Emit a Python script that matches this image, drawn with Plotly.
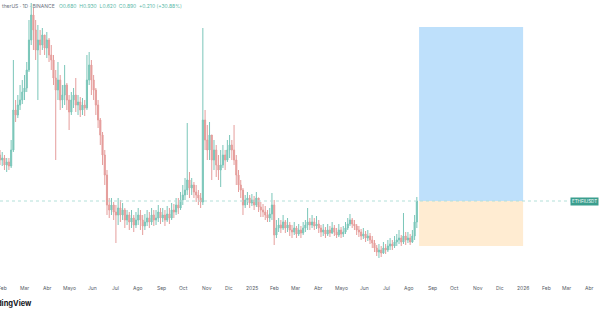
import plotly.graph_objects as go
import pandas as pd

# ---- data (3-day candles) ----
start_date = "2024-01-28"
step_days = 3
first_open = 1.35

closes = [1.30,1.32,1.25,1.28,1.24,1.40,1.80,1.75,1.85,1.90,1.98,2.02,2.20,2.50,2.75,2.60,2.40,2.50,2.45,2.55,
          2.42,2.50,2.35,2.30,2.12,2.00,2.10,1.90,1.95,2.05,1.90,1.78,1.90,1.95,1.85,1.88,1.80,1.85,1.82,2.10,
          2.25,2.10,2.00,1.85,1.70,1.55,1.35,1.15,0.85,0.80,0.85,0.78,0.75,0.82,0.75,0.80,0.70,0.75,0.68,0.72,
          0.65,0.70,0.75,0.70,0.64,0.68,0.72,0.68,0.75,0.70,0.72,0.78,0.72,0.75,0.70,0.76,0.72,0.80,0.78,0.85,
          0.82,0.90,0.95,1.00,1.10,1.02,1.05,0.98,0.95,0.92,0.88,1.70,1.50,1.40,1.55,1.30,1.40,1.25,1.20,1.25,
          1.35,1.30,1.40,1.45,1.40,1.30,1.15,1.05,1.00,0.85,0.90,0.92,0.87,0.90,0.85,0.92,0.83,0.80,0.78,0.75,
          0.72,0.76,0.85,0.55,0.62,0.65,0.62,0.68,0.62,0.65,0.60,0.58,0.62,0.56,0.60,0.57,0.62,0.65,0.68,0.65,
          0.68,0.64,0.66,0.62,0.58,0.60,0.56,0.60,0.57,0.62,0.58,0.55,0.60,0.56,0.58,0.62,0.66,0.70,0.66,0.64,
          0.60,0.58,0.54,0.56,0.52,0.54,0.50,0.47,0.42,0.38,0.40,0.37,0.42,0.40,0.44,0.46,0.44,0.48,0.50,0.52,
          0.48,0.54,0.50,0.52,0.48,0.54,0.68,0.89]

highs = [1.40,1.38,1.35,1.32,1.32,1.50,2.30,1.90,1.95,2.05,2.10,2.15,2.28,2.70,2.87,2.82,2.70,2.65,2.60,2.62,
         2.55,2.58,2.52,2.45,2.35,2.20,2.28,2.15,2.05,2.25,2.07,1.95,1.98,2.02,2.12,1.95,1.93,1.92,1.90,2.35,
         2.38,2.30,2.15,2.02,1.90,1.72,1.58,1.40,1.20,0.92,0.92,0.88,0.85,0.92,0.90,0.87,0.82,0.80,0.78,0.80,
         0.75,0.78,0.82,0.80,0.75,0.76,0.80,0.78,0.82,0.80,0.80,0.85,0.82,0.82,0.80,0.84,0.82,0.87,0.86,0.92,
         0.92,0.98,1.05,1.12,1.67,1.18,1.12,1.08,1.05,1.00,0.97,2.62,1.80,1.65,1.68,1.55,1.50,1.45,1.35,1.40,
         1.45,1.40,1.50,1.55,1.50,1.65,1.35,1.20,1.10,1.02,0.95,0.98,0.95,0.96,0.94,0.98,0.92,0.88,0.86,0.84,
         0.80,0.82,0.97,0.90,0.70,0.72,0.70,0.75,0.70,0.72,0.68,0.65,0.68,0.64,0.66,0.64,0.68,0.70,0.82,0.72,
         0.75,0.72,0.74,0.70,0.65,0.66,0.63,0.66,0.64,0.68,0.65,0.62,0.66,0.63,0.64,0.68,0.72,0.76,0.72,0.70,
         0.66,0.64,0.61,0.62,0.59,0.60,0.57,0.54,0.50,0.45,0.46,0.44,0.48,0.46,0.50,0.52,0.50,0.54,0.56,0.60,
         0.55,0.77,0.58,0.58,0.56,0.60,0.75,0.93]

lows = [1.25,1.24,1.20,1.18,1.20,1.22,1.38,1.68,1.72,1.80,1.86,1.90,1.98,2.18,2.45,2.40,2.30,1.90,2.35,2.40,
        2.35,2.32,2.28,2.20,2.05,1.30,1.90,1.80,1.82,1.85,1.80,1.60,1.75,1.82,1.78,1.75,1.73,1.75,1.74,1.80,
        2.05,1.95,1.90,1.75,1.62,1.45,1.25,1.05,0.75,0.72,0.75,0.70,0.47,0.65,0.68,0.70,0.62,0.65,0.60,0.62,
        0.58,0.62,0.65,0.60,0.55,0.60,0.64,0.62,0.65,0.64,0.65,0.68,0.66,0.68,0.64,0.68,0.66,0.70,0.72,0.75,
        0.76,0.80,0.85,0.90,0.95,0.92,0.95,0.92,0.88,0.85,0.82,0.85,1.40,1.30,1.30,1.10,1.20,1.13,1.10,1.03,
        1.22,1.20,1.28,1.32,1.30,1.25,1.05,0.98,0.92,0.75,0.82,0.85,0.82,0.84,0.80,0.83,0.78,0.73,0.73,0.70,
        0.68,0.68,0.70,0.45,0.52,0.58,0.57,0.60,0.57,0.58,0.54,0.52,0.55,0.52,0.54,0.52,0.55,0.58,0.60,0.60,
        0.62,0.60,0.61,0.57,0.53,0.54,0.52,0.54,0.53,0.56,0.54,0.52,0.53,0.52,0.53,0.56,0.60,0.64,0.62,0.60,
        0.55,0.53,0.50,0.51,0.48,0.49,0.46,0.42,0.38,0.34,0.32,0.33,0.36,0.36,0.38,0.40,0.40,0.42,0.44,0.46,
        0.44,0.46,0.45,0.47,0.45,0.47,0.50,0.62]

month_ticks = ["2024-02-01","2024-03-01","2024-04-01","2024-05-01","2024-06-01","2024-07-01","2024-08-01",
               "2024-09-01","2024-10-01","2024-11-01","2024-12-01","2025-01-01","2025-02-01","2025-03-01",
               "2025-04-01","2025-05-01","2025-06-01","2025-07-01","2025-08-01","2025-09-01","2025-10-01",
               "2025-11-01","2025-12-01","2026-01-01","2026-02-01","2026-03-01","2026-04-01"]
month_labels = ["Feb","Mar","Abr","Mayo","Jun","Jul","Ago","Sep","Oct","Nov","Dic","2025",
                "Feb","Mar","Abr","Mayo","Jun","Jul","Ago","Sep","Oct","Nov","Dic","2026",
                "Feb","Mar","Abr"]

# long position tool
pos_start = "2025-08-14"
pos_end = "2026-01-01"
target_price = 2.63
stop_price = 0.44

symbol_label = "ETHFIUSDT"
header_left = ["therUS", "1D", "BINANCE"]
header_values = ["O0.680", "H0.930", "L0.620", "C0.890", "+0.210 (+30.88%)"]

# ---- build ----
dates = pd.date_range(start_date, periods=len(closes), freq=f"{step_days}D")
opens = [first_open] + closes[:-1]
entry_price = closes[-1]

up_col = "#7ac6b9"
dn_col = "#e59d9b"

fig = go.Figure()
fig.add_trace(go.Candlestick(
    x=dates, open=opens, high=highs, low=lows, close=closes,
    increasing=dict(line=dict(color=up_col, width=1), fillcolor=up_col),
    decreasing=dict(line=dict(color=dn_col, width=1), fillcolor=dn_col),
    whiskerwidth=0, showlegend=False, hoverinfo="skip",
))

# position boxes
fig.add_shape(type="rect", xref="x", yref="y", x0=pos_start, x1=pos_end,
              y0=entry_price, y1=target_price, fillcolor="rgba(187,222,251,0.95)",
              line=dict(width=0), layer="below")
fig.add_shape(type="rect", xref="x", yref="y", x0=pos_start, x1=pos_end,
              y0=stop_price, y1=entry_price, fillcolor="rgba(255,235,208,0.95)",
              line=dict(width=0), layer="below")

# price line
fig.add_shape(type="line", xref="paper", yref="y", x0=0, x1=0.955,
              y0=entry_price, y1=entry_price,
              line=dict(color="#b3e0d9", width=1, dash="dot"))

fig.add_annotation(xref="paper", yref="y", x=0.998, y=entry_price, xanchor="right",
                   yanchor="middle", text=symbol_label, showarrow=False,
                   font=dict(family="Inter", size=4.5, color="white"),
                   bgcolor="#3a9e8e", borderpad=1)

# header
sep = "&nbsp;&nbsp;"
header_text = (" · ".join(header_left) + "&nbsp;&nbsp;&nbsp;<span style='color:#5bb8a8'>"
               + sep.join(header_values) + "</span>")
fig.add_annotation(xref="paper", yref="paper", x=0, y=0.997, xanchor="left", yanchor="top",
                   text=header_text, showarrow=False,
                   font=dict(family="Inter", size=5, color="#6b7280"))

# x tick labels (as annotations so edge labels are kept)
for d, lab in zip(month_ticks, month_labels):
    fig.add_annotation(xref="x", yref="paper", x=d, y=-8/280, xanchor="center", yanchor="middle",
                       text=lab, showarrow=False,
                       font=dict(family="Inter", size=5, color="#555b66"))

# watermark
fig.add_annotation(xref="paper", yref="paper", x=34/600, y=-23/280, xanchor="right",
                   yanchor="middle", text="<b>TradingView</b>", showarrow=False,
                   font=dict(family="Inter", size=7.5, color="#131722"))

fig.update_layout(
    width=600, height=315,
    margin=dict(l=0, r=0, t=0, b=35),
    paper_bgcolor="white", plot_bgcolor="white",
    xaxis=dict(range=["2024-01-28", "2026-04-14 12:00"], rangeslider=dict(visible=False),
               showticklabels=False, showgrid=False, zeroline=False,
               showline=False, ticks=""),
    yaxis=dict(range=[0.10, 2.90], visible=False, showgrid=False),
)

fig.write_html("out.html")
